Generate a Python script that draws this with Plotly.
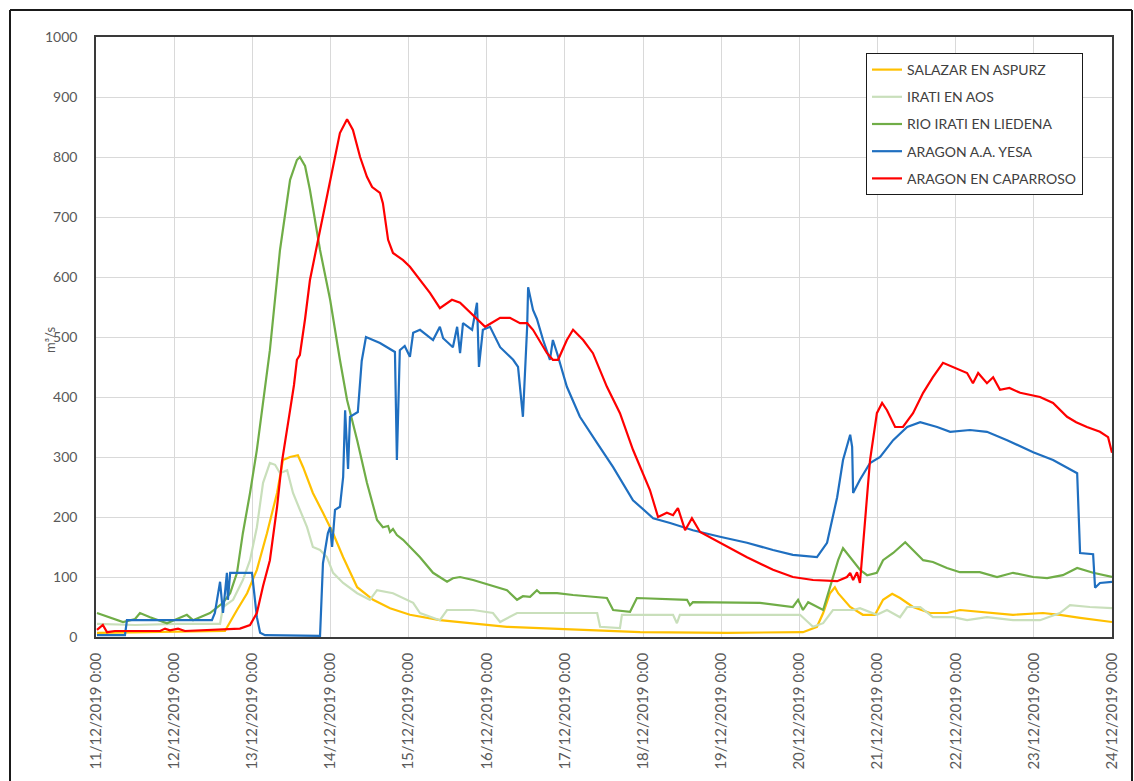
import pandas as pd
import plotly.graph_objects as go

# Caudales (m3/s) en estaciones de aforo, 11/12/2019 - 24/12/2019
# Tiempos en horas desde 11/12/2019 0:00
START = pd.Timestamp("2019-12-11 00:00")

SALAZAR_T = [0.3, 39.6, 43.3, 46.4, 49.4, 52.5, 55.6, 57.4, 59.6, 62.0, 63.6, 66.6, 69.7,
             72.8, 75.9, 80.2, 85.1, 90.3, 96.4, 105.6, 126.2, 146.5, 167.1, 193.8, 217.1,
             221.4, 223.3, 225.4, 226.9, 227.9, 231.6, 235.5, 239.2, 241.7, 244.5, 246.9,
             250.9, 256.1, 261.3, 265.3, 271.4, 281.6, 290.8, 296.0, 302.2, 312.0]
SALAZAR_Q = [7, 10, 45, 73, 112, 173, 240, 295, 300, 303, 283, 240, 207,
             173, 133, 83, 62, 48, 37, 28, 17, 12, 8, 7, 8,
             17, 40, 73, 83, 73, 50, 37, 37, 62, 72, 65,
             50, 40, 40, 45, 42, 37, 40, 37, 32, 25]

AOS_T = [0.3, 12.0, 25.0, 38.1, 39.0, 42.1, 45.1, 47.3, 49.4, 51.3, 53.4, 55.0, 56.5, 58.7,
         60.5, 62.6, 64.8, 66.6, 68.8, 70.9, 72.8, 75.9, 80.2, 84.1, 86.3, 91.2, 97.4,
         99.5, 105.6, 107.8, 115.8, 121.9, 124.1, 129.3, 153.9, 154.8, 160.9, 161.5,
         177.2, 178.4, 179.3, 216.2, 220.2, 223.3, 226.3, 232.5, 234.6, 239.8, 242.9,
         246.9, 249.1, 253.1, 257.0, 263.2, 267.5, 273.6, 281.6, 289.9, 296.0, 299.1,
         305.2, 312.0]
AOS_Q = [22, 20, 22, 22, 50, 62, 95, 128, 183, 257, 290, 287, 273, 278,
         240, 212, 183, 150, 145, 133, 107, 90, 73, 62, 78, 73, 57,
         40, 28, 45, 45, 40, 25, 40, 40, 17, 15, 37,
         37, 23, 37, 37, 17, 23, 45, 45, 48, 37, 45,
         33, 50, 50, 33, 33, 28, 33, 28, 28, 40, 53,
         50, 48]

LIEDENA_T = [0.3, 4.3, 8.3, 12.0, 13.5, 16.6, 21.8, 27.9, 29.8, 35.0, 39.0, 41.2, 43.3,
             45.1, 47.3, 49.4, 51.3, 53.4, 56.5, 59.6, 61.7, 62.6, 64.2, 65.7, 68.8,
             71.9, 74.9, 77.1, 80.2, 83.2, 86.3, 88.1, 89.7, 90.3, 91.2, 92.4, 94.3,
             99.5, 103.5, 107.8, 109.6, 111.8, 115.8, 126.2, 129.3, 131.1, 133.3, 135.4,
             136.4, 141.6, 146.5, 156.9, 158.8, 164.0, 166.1, 181.5, 182.4, 183.3, 203.9,
             214.0, 215.6, 217.1, 218.7, 221.7, 223.3, 225.4, 227.9, 229.4, 231.6, 234.6,
             236.8, 239.8, 241.7, 244.8, 248.5, 250.9, 254.0, 257.0, 261.3, 265.3, 271.4,
             276.7, 281.6, 287.8, 292.1, 296.9, 301.3, 306.2, 312.0]
LIEDENA_Q = [40, 32, 25, 30, 40, 33, 23, 37, 28, 40, 57, 73, 107,
             173, 240, 312, 395, 478, 645, 762, 795, 800, 785, 745, 645,
             562, 462, 395, 328, 257, 195, 183, 185, 175, 180, 170, 162,
             133, 107, 92, 98, 100, 95, 78, 62, 68, 67, 78,
             73, 73, 70, 65, 45, 42, 65, 62, 53, 58, 57,
             50, 62, 45, 58, 50, 45, 83, 128, 148, 133, 112,
             103, 107, 128, 140, 158, 145, 128, 125, 115, 108, 108,
             100, 107, 100, 98, 103, 115, 107, 100]

YESA_T = [0.3, 8.9, 9.5, 35.6, 36.5, 38.1, 39.0, 40.2, 40.5, 41.2, 47.9, 49.4, 50.4, 51.9,
          68.8, 69.7, 71.2, 71.9, 72.5, 73.4, 74.9, 75.9, 76.5, 77.4, 78.0, 78.9, 80.4,
          81.6, 82.9, 87.2, 89.4, 91.2, 91.8, 92.4, 93.3, 94.8, 96.4, 97.4, 99.5, 103.5,
          105.6, 106.6, 109.6, 110.9, 111.8, 112.7, 115.5, 117.0, 117.6, 118.8, 121.0,
          124.1, 128.1, 129.6, 131.1, 132.4, 132.7, 134.2, 135.4, 137.3, 139.4, 140.3,
          141.6, 144.6, 148.6, 153.9, 158.8, 164.9, 171.1, 176.3, 183.3, 191.6, 199.9,
          207.9, 214.0, 221.4, 224.5, 227.6, 229.4, 231.6, 232.2, 232.5, 234.6, 237.7,
          240.8, 244.8, 249.1, 253.1, 258.3, 262.3, 268.4, 273.6, 279.8, 287.8, 293.9,
          301.3, 302.2, 306.2, 306.8, 308.3, 312.0]
YESA_Q = [3, 3, 28, 28, 40, 92, 40, 107, 62, 107, 107, 33, 7, 3,
          2, 123, 173, 183, 150, 212, 217, 267, 378, 280, 367, 370, 375,
          460, 500, 490, 483, 478, 475, 295, 478, 485, 467, 507, 512, 495,
          517, 498, 483, 517, 473, 523, 512, 557, 450, 512, 517,
          483, 462, 450, 367, 517, 583, 545, 530, 495, 462, 495,
          473, 417, 367, 323, 283, 228, 198, 190, 178, 167, 157,
          145, 137, 133, 157, 233, 295, 337, 317, 240, 262, 290,
          300, 328, 350, 358, 350, 342, 345, 342, 328, 308, 295,
          273, 140, 138, 82, 90, 92]

CAPARROSO_T = [0.3, 2.1, 3.4, 5.8, 19.7, 21.2, 22.7, 25.2, 27.3, 31.9, 44.2, 47.3, 49.4,
               51.3, 53.4, 55.6, 57.1, 59.6, 60.8, 61.7, 62.6, 64.2, 65.7, 68.8, 71.9,
               74.9, 77.1, 78.9, 81.1, 83.2, 84.8, 87.2, 88.1, 89.7, 91.2, 94.3, 96.4,
               99.5, 102.6, 105.6, 109.3, 111.8, 115.8, 119.5, 124.1, 127.1, 130.2, 132.4,
               134.2, 138.5, 140.3, 141.9, 144.6, 146.5, 149.6, 152.6, 156.9, 160.9, 164.9,
               168.0, 170.1, 172.6, 175.3, 177.2, 178.7, 180.9, 183.0, 185.5, 191.6, 199.9,
               207.9, 214.0, 220.2, 227.6, 230.6, 231.6, 232.5, 233.7, 234.6, 235.5, 237.7,
               239.8, 241.4, 242.9, 245.4, 247.8, 250.9, 254.0, 257.0, 260.1, 263.2, 265.0,
               267.5, 269.3, 270.9, 273.6, 275.5, 277.6, 280.5, 283.8, 287.0, 289.9, 293.9,
               298.2, 301.0, 304.3, 308.3, 310.8, 312.0]
CAPARROSO_Q = [12, 20, 8, 10, 10, 14, 11, 14, 10, 11, 14, 20, 40,
               85, 128, 217, 292, 378, 420, 462, 470, 530, 595, 678, 762,
               840, 863, 845, 800, 767, 750, 740, 723, 662, 640, 628, 617,
               595, 573, 548, 562, 557, 537, 517, 532, 532, 523, 523,
               512, 473, 462, 462, 495, 512, 495, 473, 417, 373, 312,
               273, 245, 200, 207, 203, 215, 178, 198, 175, 157, 133,
               112, 100, 95, 93, 100, 107, 95, 108, 90, 150, 295,
               373, 390, 378, 350, 350, 373, 407, 433, 457, 450, 446,
               440, 423, 440, 423, 433, 412, 415, 407, 403, 400, 390,
               367, 358, 350, 342, 333, 307]

SERIES = [
    ("SALAZAR EN ASPURZ", SALAZAR_T, SALAZAR_Q, "#FFC000"),
    ("IRATI EN AOS", AOS_T, AOS_Q, "#C9DFBB"),
    ("RIO IRATI EN LIEDENA", LIEDENA_T, LIEDENA_Q, "#70AD47"),
    ("ARAGON A.A. YESA", YESA_T, YESA_Q, "#1F6FC0"),
    ("ARAGON EN CAPARROSO", CAPARROSO_T, CAPARROSO_Q, "#FF0000"),
]

DAYS = pd.date_range("2019-12-11", "2019-12-24", freq="D")
DAY_LABELS = [d.strftime("%d/%m/%Y") + " 0:00" for d in DAYS]
Y_TICKS = list(range(0, 1001, 100))

FONT = "Lato"
TICK_COLOR = "#595959"

fig = go.Figure()
for i, (name, t, q, color) in enumerate(SERIES):
    x = START + pd.to_timedelta(t, unit="h")
    fig.add_trace(go.Scatter(
        x=x, y=q, name=name, mode="lines",
        line=dict(color=color, width=2.2),
        legendgroup=f"g{i}",
    ))

# Plot-area geometry (pixels) used to place the outer frame
W, H = 1134, 781
L, R, T, B = 96, 22, 37, 144
pw, ph = W - L - R, H - T - B


def px_x(px):
    return (px - L) / pw


def px_y(py):
    return (H - B - py) / ph


frame = dict(color="#1a1a1a", width=2)
fig.add_shape(type="line", xref="paper", yref="paper",
              x0=px_x(10), x1=px_x(10), y0=px_y(790), y1=px_y(10), line=frame)
fig.add_shape(type="line", xref="paper", yref="paper",
              x0=px_x(10), x1=px_x(1132), y0=px_y(10), y1=px_y(10), line=frame)
fig.add_shape(type="line", xref="paper", yref="paper",
              x0=px_x(1132), x1=px_x(1132), y0=px_y(790), y1=px_y(10), line=frame)

fig.add_annotation(text="m³/s", xref="paper", yref="paper",
                   x=px_x(40), y=px_y(340), textangle=-90, showarrow=False,
                   font=dict(family=FONT, size=13, color=TICK_COLOR))

fig.update_layout(
    width=W, height=H,
    margin=dict(l=L, r=R, t=T, b=B),
    paper_bgcolor="white", plot_bgcolor="white",
    font=dict(family=FONT, color=TICK_COLOR),
    showlegend=True,
    legend=dict(
        x=px_x(866), y=px_y(53), xanchor="left", yanchor="top",
        bgcolor="white", bordercolor="#1a1a1a", borderwidth=1,
        font=dict(family=FONT, size=14, color="#404040"),
        tracegroupgap=6, itemwidth=30,
    ),
    xaxis=dict(
        range=[DAYS[0], DAYS[-1]],
        tickmode="array", tickvals=DAYS, ticktext=DAY_LABELS,
        tickangle=-90, tickfont=dict(family=FONT, size=15, color=TICK_COLOR),
        showgrid=True, gridcolor="#d9d9d9", gridwidth=1,
        showline=True, linecolor="#3a3a3a", linewidth=1.5, mirror=True,
        ticks="", ticklabelstandoff=8, zeroline=False,
    ),
    yaxis=dict(
        range=[0, 1000], tickmode="array", tickvals=Y_TICKS,
        tickfont=dict(family=FONT, size=14, color=TICK_COLOR),
        showgrid=True, gridcolor="#d9d9d9", gridwidth=1,
        showline=True, linecolor="#3a3a3a", linewidth=1.5, mirror=True,
        ticks="", ticklabelstandoff=14, zeroline=False,
    ),
)

fig.write_html("out.html")
